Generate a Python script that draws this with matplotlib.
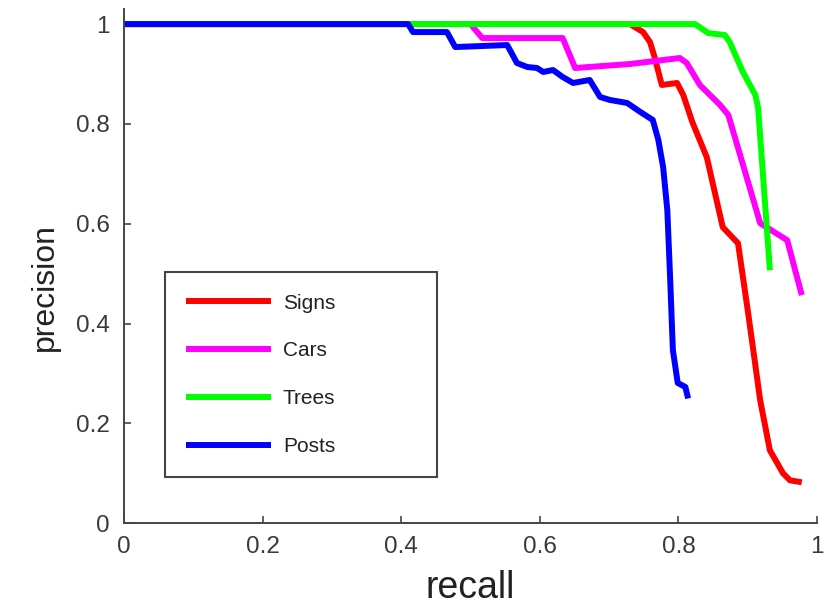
import matplotlib
matplotlib.use("Agg")
import matplotlib.pyplot as plt

# precision / recall curves
signs_recall = [0.0, 0.73, 0.749, 0.759, 0.766, 0.776, 0.798, 0.807, 0.820, 0.841,
                0.864, 0.886, 0.900, 0.908, 0.918, 0.932, 0.951, 0.961, 0.978]
signs_prec = [1.0, 1.0, 0.984, 0.964, 0.932, 0.878, 0.882, 0.858, 0.804, 0.733,
              0.593, 0.561, 0.427, 0.347, 0.246, 0.146, 0.100, 0.086, 0.082]

cars_recall = [0.0, 0.50, 0.517, 0.633, 0.651, 0.730, 0.802, 0.812, 0.831, 0.860,
               0.872, 0.918, 0.957, 0.978]
cars_prec = [1.0, 1.0, 0.972, 0.972, 0.912, 0.920, 0.932, 0.922, 0.878, 0.838,
             0.818, 0.601, 0.567, 0.457]

trees_recall = [0.0, 0.824, 0.843, 0.867, 0.874, 0.893, 0.911, 0.915, 0.932]
trees_prec = [1.0, 1.0, 0.982, 0.978, 0.964, 0.904, 0.858, 0.832, 0.507]

posts_recall = [0.0, 0.41, 0.417, 0.466, 0.478, 0.553, 0.567, 0.582, 0.596, 0.605,
                0.619, 0.633, 0.648, 0.672, 0.687, 0.701, 0.726, 0.745, 0.763,
                0.771, 0.778, 0.784, 0.788, 0.792, 0.799, 0.810, 0.814]
posts_prec = [1.0, 1.0, 0.984, 0.984, 0.954, 0.958, 0.922, 0.914, 0.912, 0.904,
              0.908, 0.894, 0.882, 0.888, 0.854, 0.848, 0.842, 0.824, 0.808,
              0.768, 0.713, 0.627, 0.493, 0.347, 0.281, 0.273, 0.250]

labels = ["Signs", "Cars", "Trees", "Posts"]
colors = [(1, 0, 0), (1, 0, 1), (0, 1, 0), (0, 0, 1)]
tick_vals = [0, 0.2, 0.4, 0.6, 0.8, 1]
tick_labels = ["0", "0.2", "0.4", "0.6", "0.8", "1"]

plt.rcParams["font.family"] = ["Liberation Sans", "DejaVu Sans"]

fig = plt.figure(figsize=(8.32, 6.07), dpi=100)
ax = fig.add_axes([0.149, 0.138, 0.833, 0.847])

curves = [(signs_recall, signs_prec), (cars_recall, cars_prec),
          (trees_recall, trees_prec), (posts_recall, posts_prec)]
for (r, p), lab, c in zip(curves, labels, colors):
    ax.plot(r, p, color=c, lw=4.3, label=lab, solid_joinstyle="round",
            solid_capstyle="butt")

ax.set_xlim(0, 1)
ax.set_ylim(0, 1.03)
ax.set_xticks(tick_vals)
ax.set_xticklabels(tick_labels)
ax.set_yticks(tick_vals)
ax.set_yticklabels(tick_labels)

for s in ["top", "right"]:
    ax.spines[s].set_visible(False)
for s in ["left", "bottom"]:
    ax.spines[s].set_color("#454545")
    ax.spines[s].set_linewidth(1.4)

ax.tick_params(direction="in", length=5, width=1.2, color="#454545",
               labelsize=17.5, labelcolor="#3a3a3a")
ax.tick_params(axis="y", pad=10)
ax.tick_params(axis="x", pad=9)

ax.set_xlabel("recall", fontsize=27, color="#222222")
ax.xaxis.set_label_coords(0.5, -0.161)
ax.xaxis.label.set_va("bottom")
ax.set_ylabel("precision", fontsize=23, color="#222222")
ax.yaxis.set_label_coords(-0.114, 0.459)
ax.yaxis.label.set_va("center")

leg = ax.legend(loc="lower left", bbox_to_anchor=(0.198, 0.214, 0.327, 0.338),
                bbox_transform=fig.transFigure, mode="expand", borderaxespad=0,
                fontsize=15, handlelength=4.1, handletextpad=0.55,
                labelspacing=1.38, borderpad=1.02, fancybox=False,
                framealpha=1, edgecolor="#454545")
leg.get_frame().set_linewidth(1.5)
for t in leg.get_texts():
    t.set_color("#222222")

fig.savefig("out.png", dpi=100)
